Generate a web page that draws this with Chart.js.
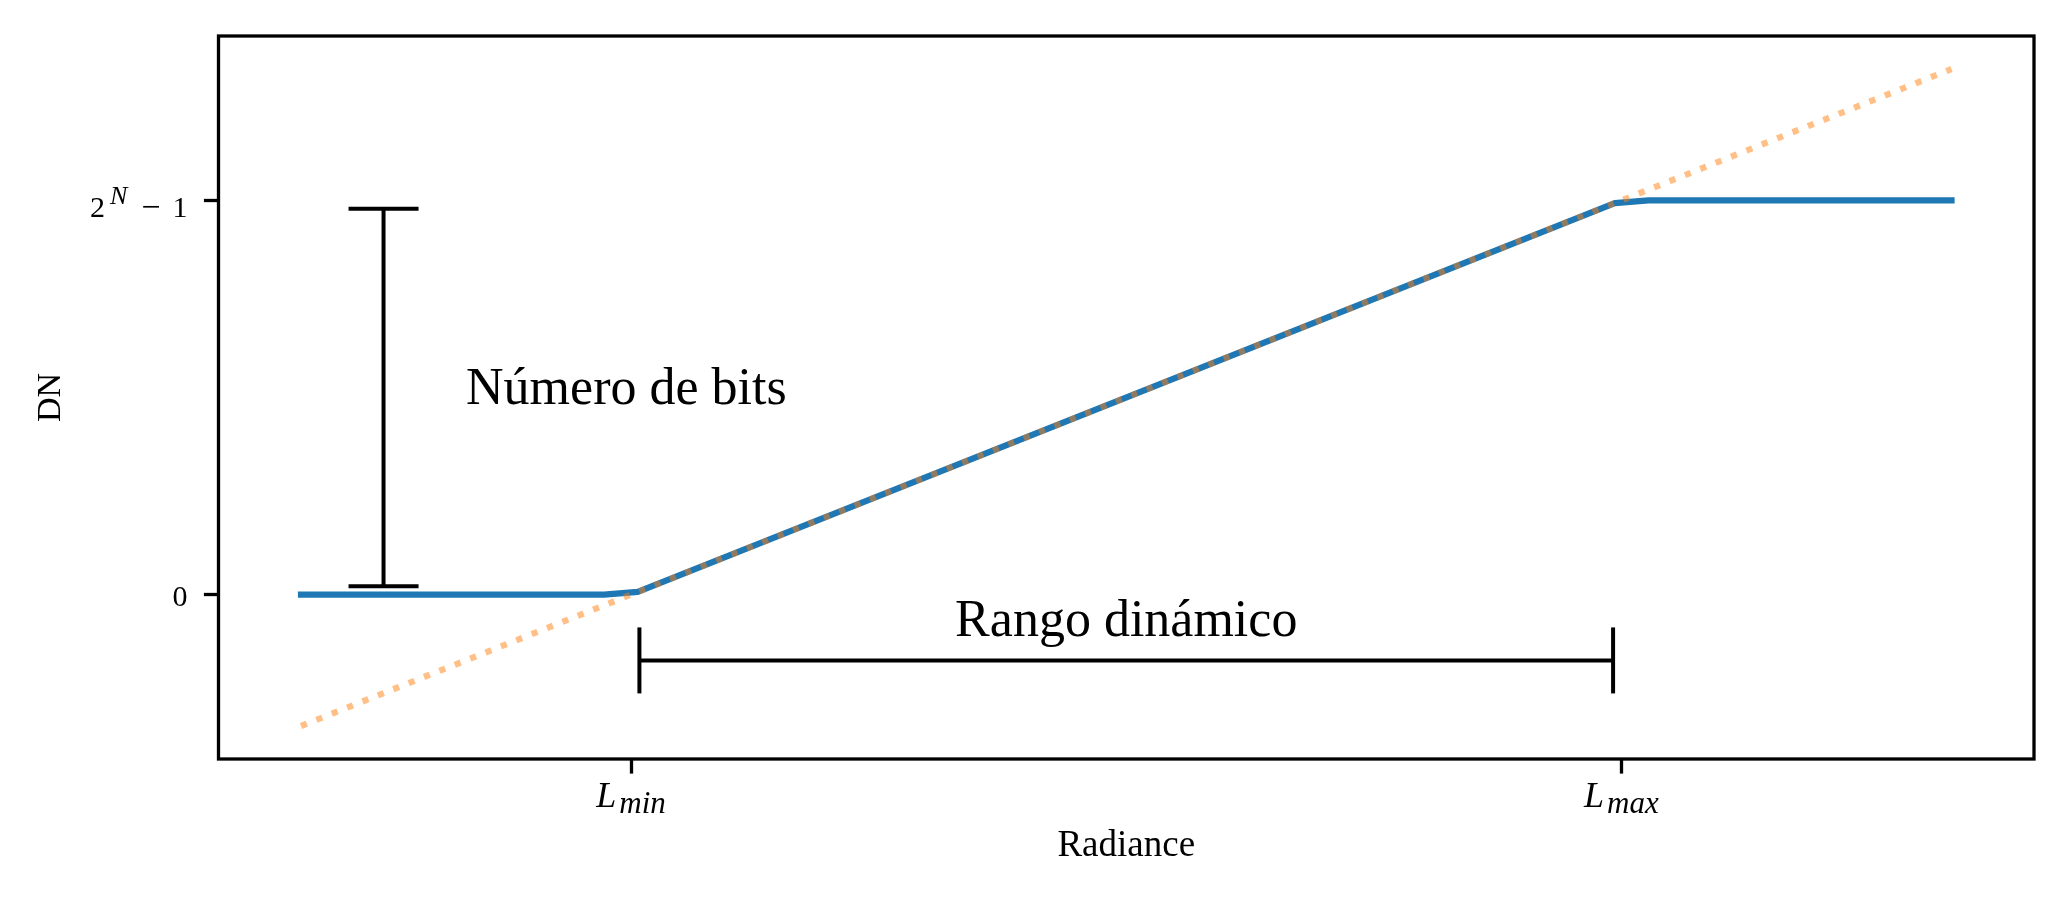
<!DOCTYPE html>
<html>
<head>
<meta charset="utf-8">
<script src="https://cdn.jsdelivr.net/npm/chart.js@4/dist/chart.umd.min.js"></script>
<style>
  body { margin: 0; background: #fff; }
</style>
</head>
<body>
<canvas id="dnChart" width="2070" height="900"></canvas>
<script>
// radiance samples and the DN the sensor gives (clipped at 0 and 2^N - 1)
const radiance = [0, 0.918, 1.020, 3.980, 4.082, 5];
const dnSensor = [0, 0, 0.007, 0.993, 1, 1];

// ideal unclipped response
const radianceIdeal = [0, 5];
const dnIdeal = [-0.333, 1.333];

const xTickValues = [1, 4];
const xTickLabels = [["L", "min"], ["L", "max"]];
const yTickValues = [0, 1];
const yTickLabels = ["0", "2^N-1"];

// annotations, in data units
const bitsBarX = 0.25;
const bitsBarDN = [0, 1];
const rangeBarDN = -0.1667;
const rangeBarX = [1, 4];
const bitsText = "Número de bits";
const bitsTextPos = [0.5, 0.483];
const rangeText = "Rango dinámico";
const rangeTextPos = [2.5, -0.106];

const serif = '"Liberation Serif", "DejaVu Serif", serif';
const shrink = 8.3;

function toPoints(xs, ys) {
    return xs.map((v, i) => ({ x: v, y: ys[i] }));
}

function line(ctx, x0, y0, x1, y1) {
    ctx.beginPath();
    ctx.moveTo(x0, y0);
    ctx.lineTo(x1, y1);
    ctx.stroke();
}

const decorations = {
    id: "decorations",
    afterDraw(chart) {
        const { ctx, chartArea: a, scales: { x, y } } = chart;
        ctx.save();
        ctx.strokeStyle = "#000";
        ctx.fillStyle = "#000";

        // frame
        ctx.lineWidth = 3.3;
        ctx.strokeRect(a.left, a.top, a.right - a.left, a.bottom - a.top);

        // number of bits bracket
        ctx.lineWidth = 4;
        const bx = x.getPixelForValue(bitsBarX);
        const by0 = y.getPixelForValue(bitsBarDN[0]) - shrink;
        const by1 = y.getPixelForValue(bitsBarDN[1]) + shrink;
        line(ctx, bx, by0, bx, by1);
        line(ctx, bx - 35, by0, bx + 35, by0);
        line(ctx, bx - 35, by1, bx + 35, by1);

        // dynamic range bracket
        const ry = y.getPixelForValue(rangeBarDN);
        const rx0 = x.getPixelForValue(rangeBarX[0]) + shrink;
        const rx1 = x.getPixelForValue(rangeBarX[1]) - shrink;
        line(ctx, rx0, ry, rx1, ry);
        line(ctx, rx0, ry - 33, rx0, ry + 33);
        line(ctx, rx1, ry - 33, rx1, ry + 33);

        // annotation texts
        ctx.font = "52px " + serif;
        ctx.textBaseline = "alphabetic";
        ctx.textAlign = "left";
        ctx.fillText(bitsText, x.getPixelForValue(bitsTextPos[0]), y.getPixelForValue(bitsTextPos[1]));
        ctx.textAlign = "center";
        ctx.fillText(rangeText, x.getPixelForValue(rangeTextPos[0]), y.getPixelForValue(rangeTextPos[1]));

        // x tick labels: L with subscript
        ctx.textAlign = "left";
        xTickValues.forEach((v, i) => {
            const [main, sub] = xTickLabels[i];
            ctx.font = "italic 36px " + serif;
            const wMain = ctx.measureText(main).width;
            ctx.font = "italic 31px " + serif;
            const wSub = ctx.measureText(sub).width;
            const px = x.getPixelForValue(v);
            const left = px - (wMain + wSub + 3) / 2;
            ctx.font = "italic 36px " + serif;
            ctx.fillText(main, left, 807);
            ctx.font = "italic 31px " + serif;
            ctx.fillText(sub, left + wMain + 3, 813);
        });

        // y tick labels
        const right = a.left - 31;
        yTickValues.forEach((v, i) => {
            const py = y.getPixelForValue(v);
            const label = yTickLabels[i];
            if (label.indexOf("^") < 0) {
                ctx.font = "30px " + serif;
                ctx.textAlign = "right";
                ctx.fillText(label, right, py + 11);
                return;
            }
            const base = label.split("^")[0];
            const rest = label.split("^")[1].split("-");
            const parts = [
                { t: base, f: "30px " + serif, dy: 17 },
                { t: rest[0], f: "italic 26px " + serif, dy: 4, gap: 5 },
                { t: "\u2212", f: "34px " + serif, dy: 18, gap: 14 },
                { t: rest[1], f: "30px " + serif, dy: 17, gap: 12 }
            ];
            ctx.textAlign = "left";
            let total = 0;
            parts.forEach(p => {
                ctx.font = p.f;
                p.w = ctx.measureText(p.t).width;
                total += p.w + (p.gap || 0);
            });
            let cx = right - total;
            parts.forEach(p => {
                cx += p.gap || 0;
                ctx.font = p.f;
                ctx.fillText(p.t, cx, py + p.dy);
                cx += p.w;
            });
        });

        // axis titles
        ctx.font = "37px " + serif;
        ctx.textAlign = "center";
        ctx.fillText("Radiance", (a.left + a.right) / 2, 856);
        ctx.translate(60, (a.top + a.bottom) / 2);
        ctx.rotate(-Math.PI / 2);
        ctx.font = "34px " + serif;
        ctx.fillText("DN", 0, 0);

        ctx.restore();
    }
};

const axisCommon = {
    type: "linear",
    ticks: { display: false },
    border: { display: false },
    grid: {
        display: true,
        drawOnChartArea: false,
        drawTicks: true,
        tickLength: 14.6,
        tickWidth: 3.3,
        tickColor: "#000",
        color: "#000"
    }
};

const dnChart = new Chart(
    document.getElementById("dnChart"), {
        type: "line",
        data: {
            datasets: [
                {
                    label: "ideal",
                    data: toPoints(radianceIdeal, dnIdeal),
                    borderColor: "rgba(255, 127, 14, 0.5)",
                    borderWidth: 6.25,
                    borderDash: [6.25, 10.3],
                    borderCapStyle: "butt",
                    pointRadius: 0,
                    order: 0
                },
                {
                    label: "sensor",
                    data: toPoints(radiance, dnSensor),
                    borderColor: "#1f77b4",
                    borderWidth: 6.25,
                    borderCapStyle: "square",
                    borderJoinStyle: "round",
                    pointRadius: 0,
                    order: 1
                }
            ]
        },
        options: {
            responsive: false,
            animation: false,
            devicePixelRatio: 1,
            layout: { padding: { left: 0, top: 36, right: 36, bottom: 0 } },
            plugins: { legend: { display: false }, tooltip: { enabled: false } },
            elements: { line: { tension: 0 } },
            scales: {
                x: {
                    ...axisCommon,
                    min: -0.25,
                    max: 5.25,
                    afterBuildTicks: s => { s.ticks = xTickValues.map(v => ({ value: v })); },
                    afterFit: s => { s.height = 141; }
                },
                y: {
                    ...axisCommon,
                    min: -0.4167,
                    max: 1.4167,
                    afterBuildTicks: s => { s.ticks = yTickValues.map(v => ({ value: v })); },
                    afterFit: s => { s.width = 218.5; }
                }
            }
        },
        plugins: [decorations]
    }
);
</script>
</body>
</html>
